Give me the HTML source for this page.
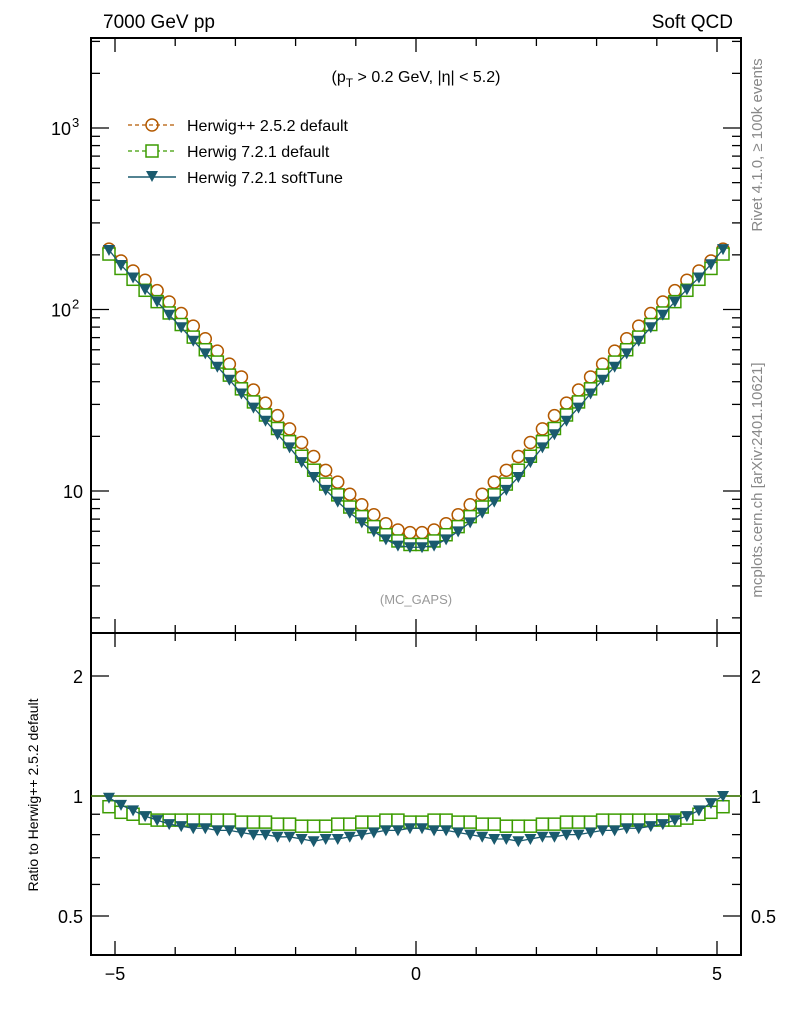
<!DOCTYPE html>
<html><head><meta charset="utf-8"><style>
html,body{margin:0;padding:0;background:#fff}
svg{display:block;font-family:"Liberation Sans",sans-serif}
</style></head><body>
<svg id="chart" width="786" height="1024" viewBox="0 0 786 1024">
<g>
<text x="103" y="28" font-size="19">7000 GeV pp</text>
<text x="733" y="28" font-size="19" text-anchor="end">Soft QCD</text>
<text x="416" y="82" font-size="16" text-anchor="middle">(p<tspan font-size="12" dy="5">T</tspan><tspan dy="-5"> &gt; 0.2 GeV, |η| &lt; 5.2)</tspan></text>
<text x="416" y="604" font-size="13" fill="#999" text-anchor="middle">(MC_GAPS)</text>
<text transform="translate(762,145) rotate(-90)" font-size="15" fill="#888" text-anchor="middle">Rivet 4.1.0, ≥ 100k events</text>
<text transform="translate(762,480) rotate(-90)" font-size="15" fill="#888" text-anchor="middle">mcplots.cern.ch [arXiv:2401.10621]</text>
<text transform="translate(38,795) rotate(-90)" font-size="14" text-anchor="middle">Ratio to Herwig++ 2.5.2 default</text>
</g>
<g id="axes"></g>
<g id="marks"></g>
<g>
<g>
<line x1="128" y1="125" x2="176" y2="125" stroke="#b35900" stroke-dasharray="4,3" stroke-width="1.3"/>
<circle cx="152" cy="125" r="6" fill="none" stroke="#b35900" stroke-width="1.5"/>
<text x="187" y="131" font-size="16">Herwig++ 2.5.2 default</text></g>
<g>
<line x1="128" y1="151" x2="176" y2="151" stroke="#3c9c00" stroke-dasharray="4,3" stroke-width="1.3"/>
<rect x="146" y="145" width="12" height="12" fill="#fff" stroke="#3c9c00" stroke-width="1.5"/>
<text x="187" y="157" font-size="16">Herwig 7.2.1 default</text></g>
<g>
<line x1="128" y1="177" x2="176" y2="177" stroke="#1a5a6e" stroke-width="1.5"/>
<path d="M146,171 L158,171 L152,182 Z" fill="#1a5a6e"/>
<text x="187" y="183" font-size="16">Herwig 7.2.1 softTune</text></g>
</g>
</svg>
<script>
const etaBins = [-5.1,-4.9,-4.7,-4.5,-4.3,-4.1,-3.9,-3.7,-3.5,-3.3,-3.1,-2.9,-2.7,-2.5,-2.3,-2.1,-1.9,-1.7,-1.5,-1.3,-1.1,-0.9,-0.7,-0.5,-0.3,-0.1,0.1,0.3,0.5,0.7,0.9,1.1,1.3,1.5,1.7,1.9,2.1,2.3,2.5,2.7,2.9,3.1,3.3,3.5,3.7,3.9,4.1,4.3,4.5,4.7,4.9,5.1];
const herwigpp = [215,185,163,145,127,110,95,81,69,59,50,42.5,36,30.5,26,22,18.5,15.5,13,11.2,9.6,8.4,7.4,6.6,6.1,5.9,5.9,6.1,6.6,7.4,8.4,9.6,11.2,13,15.5,18.5,22,26,30.5,36,42.5,50,59,69,81,95,110,127,145,163,185,215];
const ratioDefault = [0.94,0.91,0.90,0.88,0.87,0.87,0.87,0.87,0.87,0.87,0.87,0.86,0.86,0.86,0.85,0.85,0.84,0.84,0.84,0.85,0.85,0.86,0.86,0.87,0.87,0.86,0.86,0.87,0.87,0.86,0.86,0.85,0.85,0.84,0.84,0.84,0.85,0.85,0.86,0.86,0.86,0.87,0.87,0.87,0.87,0.87,0.87,0.87,0.88,0.90,0.91,0.94];
const ratioSoft = [0.99,0.95,0.92,0.89,0.87,0.85,0.84,0.83,0.83,0.82,0.82,0.81,0.80,0.80,0.79,0.79,0.78,0.77,0.78,0.78,0.79,0.80,0.81,0.82,0.82,0.83,0.83,0.82,0.82,0.81,0.80,0.79,0.78,0.78,0.77,0.78,0.79,0.79,0.80,0.80,0.81,0.82,0.82,0.83,0.83,0.84,0.85,0.87,0.89,0.92,0.96,1.0];
const xTicks = [-5,0,5];
const mainTickVals = [10,100,1000];
const mainTickExps = ["","2","3"];
const ratioTicks = [0.5,1,2];

const NS="http://www.w3.org/2000/svg";
const L=91,R=741,T=38,MB=633,RB=955;
const xS=v=>416+v*60.2;
const yM=v=>491-(Math.log10(v)-1)*181.5;
const yR=v=>796-Math.log2(v)*120;
const axes=document.getElementById('axes'), marks=document.getElementById('marks');
function mk(tag,attrs,parent){const e=document.createElementNS(NS,tag);for(const k in attrs)e.setAttribute(k,attrs[k]);parent.appendChild(e);return e;}
let f1=mk('rect',{x:L,y:T,width:R-L,height:MB-T,fill:'none',stroke:'#000','stroke-width':2},axes);


let f2=mk('rect',{x:L,y:MB,width:R-L,height:RB-MB,fill:'none',stroke:'#000','stroke-width':2},axes);


for(let v=-5;v<=5;v+=1){const x=xS(v);const big=v%5===0;const len=big?14:8;
 for(const [y0,dir] of [[T,1],[MB,-1],[MB,1],[RB,-1]]) mk('line',{x1:x,y1:y0,x2:x,y2:y0+dir*len,stroke:'#000','stroke-width':1.3},axes);}
xTicks.forEach(v=>{const t=mk('text',{x:xS(v),y:980,'font-size':18,'text-anchor':'middle'},axes);t.textContent=v<0?'−'+(-v):String(v);
 
 });
for(let d=1;d<=1000;d*=10){for(let m=1;m<10;m++){const v=d*m;const y=yM(v);if(y<T||y>MB)continue;const len=m===1?18:9;
 mk('line',{x1:L,y1:y,x2:L+len,y2:y,stroke:'#000','stroke-width':1.3},axes);mk('line',{x1:R,y1:y,x2:R-len,y2:y,stroke:'#000','stroke-width':1.3},axes);}}
mainTickVals.forEach((v,i)=>{const e=mainTickExps[i];
 const t=mk('text',{x:e?L-20:L-8,y:yM(v)+7,'font-size':18,'text-anchor':'end'},axes);t.textContent="10";
 
 
 if(e){const s=mk('text',{x:L-19,y:yM(v)-1,'font-size':13,'text-anchor':'start'},axes);s.textContent=e;
  
  }});
[0.5,0.6,0.7,0.8,0.9,1,2].forEach(v=>{const y=yR(v);const len=(v===0.5||v===1||v===2)?18:9;
 mk('line',{x1:L,y1:y,x2:L+len,y2:y,stroke:'#000','stroke-width':1.3},axes);mk('line',{x1:R,y1:y,x2:R-len,y2:y,stroke:'#000','stroke-width':1.3},axes);});
ratioTicks.forEach(v=>{for(const [x,a] of [[L-8,'end'],[R+10,'start']]){const t=mk('text',{x:x,y:yR(v)+7,'font-size':18,'text-anchor':a},axes);t.textContent=String(v);
 
 }});
let rl=mk('line',{x1:L,y1:yR(1),x2:R,y2:yR(1),stroke:'#3c7a00','stroke-width':1.5},marks);


const series=[
 {name:'herwigpp',col:'#b35900',dash:'4,3',shape:'c',main:herwigpp,ratio:herwigpp.map(()=>1)},
 {name:'herwig721-default',col:'#3c9c00',dash:'4,3',shape:'s',main:herwigpp.map((v,i)=>v*ratioDefault[i]),ratio:ratioDefault},
 {name:'herwig721-softtune',col:'#1a5a6e',dash:'',shape:'t',main:herwigpp.map((v,i)=>v*ratioSoft[i]),ratio:ratioSoft}];
function marker(g,s,x,y){
 if(s.shape==='c')return mk('circle',{cx:x,cy:y,r:6,fill:'#fff',stroke:s.col,'stroke-width':1.5},g);
 if(s.shape==='s')return mk('rect',{x:x-6,y:y-6,width:12,height:12,fill:'#fff',stroke:s.col,'stroke-width':1.5},g);
 return mk('path',{d:`M${x-6},${y-5} L${x+6},${y-5} L${x},${y+6} Z`,fill:s.col},g);}
series.forEach(s=>{
 [['main',yM,s.main],['ratio',yR,s.ratio]].forEach(([pn,yf,vals])=>{
  if(pn==='ratio'&&s.shape==='c')return;
  const g=mk('g',{},marks);
  
  
  const pts=etaBins.map((e,i)=>xS(e)+','+yf(vals[i])).join(' ');
  mk('polyline',{points:pts,fill:'none',stroke:s.col,'stroke-width':1.3,'stroke-dasharray':s.dash},g);
  etaBins.forEach((e,i)=>{const m=marker(g,s,xS(e),yf(vals[i]));
   
   });
 });});
</script>
</body></html>
